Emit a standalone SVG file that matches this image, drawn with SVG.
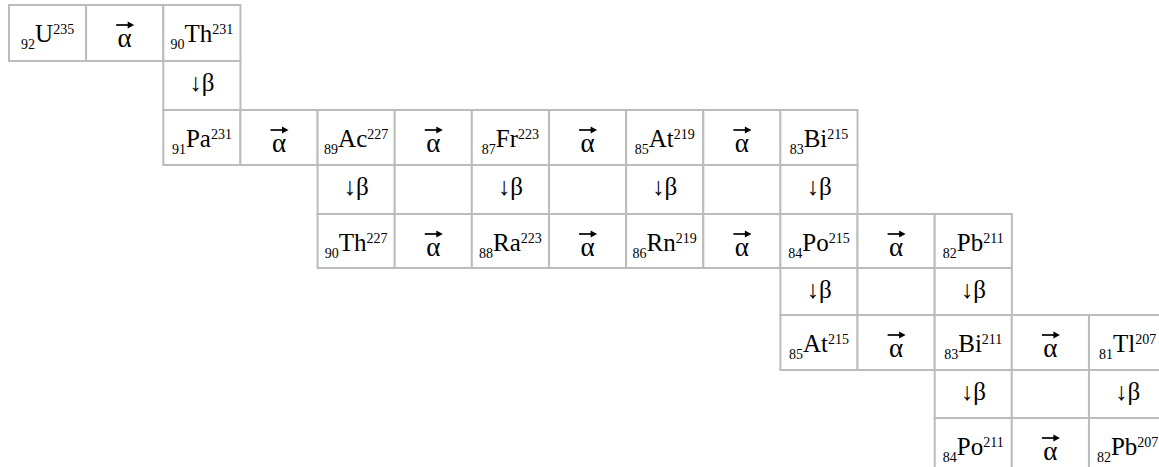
<svg xmlns="http://www.w3.org/2000/svg" xmlns:xlink="http://www.w3.org/1999/xlink" width="1159" height="467" viewBox="0 0 1159 467">
<style>
.c{fill:#fff;stroke:#bcbcbc;stroke-width:2}
.t{font-family:"Liberation Serif","DejaVu Serif",serif;font-size:25px;fill:#000;text-anchor:middle}
.a{font-size:27px}
.s{font-size:14px}
</style>
<defs>
<g id="ar"><path d="M-8.5,0H5" stroke="#000" stroke-width="1.7" fill="none"/><path d="M3,-3.6L9.5,0L3,3.6Z" fill="#000"/></g>
</defs>
<rect width="1159" height="467" fill="#fff"/>
<g id="connectors"/>
<!-- row 0 -->
<g id="U235"><rect class="c" x="9" y="5" width="77.14" height="56"/><text class="t" x="47.6" y="42"><tspan class="s" dy="7">92</tspan><tspan dy="-7">U</tspan><tspan class="s" dy="-8">235</tspan></text></g>
<g id="a1"><rect class="c" x="86.1" y="5" width="77.14" height="56"/><use xlink:href="#ar" href="#ar" x="124.7" y="25"/><text class="t a" x="124.7" y="47">α</text></g>
<g id="Th231"><rect class="c" x="163.3" y="5" width="77.14" height="56"/><text class="t" x="201.9" y="42"><tspan class="s" dy="7">90</tspan><tspan dy="-7">Th</tspan><tspan class="s" dy="-8">231</tspan></text></g>
<!-- row 1 -->
<g id="b1"><rect class="c" x="163.3" y="61" width="77.14" height="49"/><text class="t" x="201.9" y="91">↓β</text></g>
<!-- row 2 -->
<g id="Pa231"><rect class="c" x="163.3" y="110" width="77.14" height="55"/><text class="t" x="201.9" y="147"><tspan class="s" dy="7">91</tspan><tspan dy="-7">Pa</tspan><tspan class="s" dy="-8">231</tspan></text></g>
<g id="a2"><rect class="c" x="240.4" y="110" width="77.14" height="55"/><use xlink:href="#ar" href="#ar" x="279" y="130"/><text class="t a" x="279" y="152">α</text></g>
<g id="Ac227"><rect class="c" x="317.6" y="110" width="77.14" height="55"/><text class="t" x="356.2" y="147"><tspan class="s" dy="7">89</tspan><tspan dy="-7">Ac</tspan><tspan class="s" dy="-8">227</tspan></text></g>
<g id="a3"><rect class="c" x="394.7" y="110" width="77.14" height="55"/><use xlink:href="#ar" href="#ar" x="433.3" y="130"/><text class="t a" x="433.3" y="152">α</text></g>
<g id="Fr223"><rect class="c" x="471.8" y="110" width="77.14" height="55"/><text class="t" x="510.4" y="147"><tspan class="s" dy="7">87</tspan><tspan dy="-7">Fr</tspan><tspan class="s" dy="-8">223</tspan></text></g>
<g id="a4"><rect class="c" x="549" y="110" width="77.14" height="55"/><use xlink:href="#ar" href="#ar" x="587.6" y="130"/><text class="t a" x="587.6" y="152">α</text></g>
<g id="At219"><rect class="c" x="626.1" y="110" width="77.14" height="55"/><text class="t" x="664.7" y="147"><tspan class="s" dy="7">85</tspan><tspan dy="-7">At</tspan><tspan class="s" dy="-8">219</tspan></text></g>
<g id="a5"><rect class="c" x="703.3" y="110" width="77.14" height="55"/><use xlink:href="#ar" href="#ar" x="741.9" y="130"/><text class="t a" x="741.9" y="152">α</text></g>
<g id="Bi215"><rect class="c" x="780.4" y="110" width="77.14" height="55"/><text class="t" x="819" y="147"><tspan class="s" dy="7">83</tspan><tspan dy="-7">Bi</tspan><tspan class="s" dy="-8">215</tspan></text></g>
<!-- row 3 -->
<g id="b2"><rect class="c" x="317.6" y="165" width="77.14" height="49"/><text class="t" x="356.2" y="195">↓β</text></g>
<g id="e1"><rect class="c" x="394.7" y="165" width="77.14" height="49"/></g>
<g id="b3"><rect class="c" x="471.8" y="165" width="77.14" height="49"/><text class="t" x="510.4" y="195">↓β</text></g>
<g id="e2"><rect class="c" x="549" y="165" width="77.14" height="49"/></g>
<g id="b4"><rect class="c" x="626.1" y="165" width="77.14" height="49"/><text class="t" x="664.7" y="195">↓β</text></g>
<g id="e3"><rect class="c" x="703.3" y="165" width="77.14" height="49"/></g>
<g id="b5"><rect class="c" x="780.4" y="165" width="77.14" height="49"/><text class="t" x="819" y="195">↓β</text></g>
<!-- row 4 -->
<g id="Th227"><rect class="c" x="317.6" y="214" width="77.14" height="54"/><text class="t" x="356.2" y="251"><tspan class="s" dy="7">90</tspan><tspan dy="-7">Th</tspan><tspan class="s" dy="-8">227</tspan></text></g>
<g id="a6"><rect class="c" x="394.7" y="214" width="77.14" height="54"/><use xlink:href="#ar" href="#ar" x="433.3" y="234"/><text class="t a" x="433.3" y="256">α</text></g>
<g id="Ra223"><rect class="c" x="471.8" y="214" width="77.14" height="54"/><text class="t" x="510.4" y="251"><tspan class="s" dy="7">88</tspan><tspan dy="-7">Ra</tspan><tspan class="s" dy="-8">223</tspan></text></g>
<g id="a7"><rect class="c" x="549" y="214" width="77.14" height="54"/><use xlink:href="#ar" href="#ar" x="587.6" y="234"/><text class="t a" x="587.6" y="256">α</text></g>
<g id="Rn219"><rect class="c" x="626.1" y="214" width="77.14" height="54"/><text class="t" x="664.7" y="251"><tspan class="s" dy="7">86</tspan><tspan dy="-7">Rn</tspan><tspan class="s" dy="-8">219</tspan></text></g>
<g id="a8"><rect class="c" x="703.3" y="214" width="77.14" height="54"/><use xlink:href="#ar" href="#ar" x="741.9" y="234"/><text class="t a" x="741.9" y="256">α</text></g>
<g id="Po215"><rect class="c" x="780.4" y="214" width="77.14" height="54"/><text class="t" x="819" y="251"><tspan class="s" dy="7">84</tspan><tspan dy="-7">Po</tspan><tspan class="s" dy="-8">215</tspan></text></g>
<g id="a9"><rect class="c" x="857.5" y="214" width="77.14" height="54"/><use xlink:href="#ar" href="#ar" x="896.1" y="234"/><text class="t a" x="896.1" y="256">α</text></g>
<g id="Pb211"><rect class="c" x="934.7" y="214" width="77.14" height="54"/><text class="t" x="973.3" y="251"><tspan class="s" dy="7">82</tspan><tspan dy="-7">Pb</tspan><tspan class="s" dy="-8">211</tspan></text></g>
<!-- row 5 -->
<g id="b6"><rect class="c" x="780.4" y="268" width="77.14" height="47"/><text class="t" x="819" y="298">↓β</text></g>
<g id="e4"><rect class="c" x="857.5" y="268" width="77.14" height="47"/></g>
<g id="b7"><rect class="c" x="934.7" y="268" width="77.14" height="47"/><text class="t" x="973.3" y="298">↓β</text></g>
<!-- row 6 -->
<g id="At215"><rect class="c" x="780.4" y="315" width="77.14" height="55"/><text class="t" x="819" y="352"><tspan class="s" dy="7">85</tspan><tspan dy="-7">At</tspan><tspan class="s" dy="-8">215</tspan></text></g>
<g id="a10"><rect class="c" x="857.5" y="315" width="77.14" height="55"/><use xlink:href="#ar" href="#ar" x="896.1" y="335"/><text class="t a" x="896.1" y="357">α</text></g>
<g id="Bi211"><rect class="c" x="934.7" y="315" width="77.14" height="55"/><text class="t" x="973.3" y="352"><tspan class="s" dy="7">83</tspan><tspan dy="-7">Bi</tspan><tspan class="s" dy="-8">211</tspan></text></g>
<g id="a11"><rect class="c" x="1011.8" y="315" width="77.14" height="55"/><use xlink:href="#ar" href="#ar" x="1050.4" y="335"/><text class="t a" x="1050.4" y="357">α</text></g>
<g id="Tl207"><rect class="c" x="1089" y="315" width="77.14" height="55"/><text class="t" x="1127.6" y="352"><tspan class="s" dy="7">81</tspan><tspan dy="-7">Tl</tspan><tspan class="s" dy="-8">207</tspan></text></g>
<!-- row 7 -->
<g id="b8"><rect class="c" x="934.7" y="370" width="77.14" height="48"/><text class="t" x="973.3" y="400">↓β</text></g>
<g id="e5"><rect class="c" x="1011.8" y="370" width="77.14" height="48"/></g>
<g id="b9"><rect class="c" x="1089" y="370" width="77.14" height="48"/><text class="t" x="1127.6" y="400">↓β</text></g>
<!-- row 8 -->
<g id="Po211"><rect class="c" x="934.7" y="418" width="77.14" height="56"/><text class="t" x="973.3" y="455"><tspan class="s" dy="7">84</tspan><tspan dy="-7">Po</tspan><tspan class="s" dy="-8">211</tspan></text></g>
<g id="a12"><rect class="c" x="1011.8" y="418" width="77.14" height="56"/><use xlink:href="#ar" href="#ar" x="1050.4" y="438"/><text class="t a" x="1050.4" y="460">α</text></g>
<g id="Pb207"><rect class="c" x="1089" y="418" width="77.14" height="56"/><text class="t" x="1127.6" y="455"><tspan class="s" dy="7">82</tspan><tspan dy="-7">Pb</tspan><tspan class="s" dy="-8">207</tspan></text></g>
</svg>
